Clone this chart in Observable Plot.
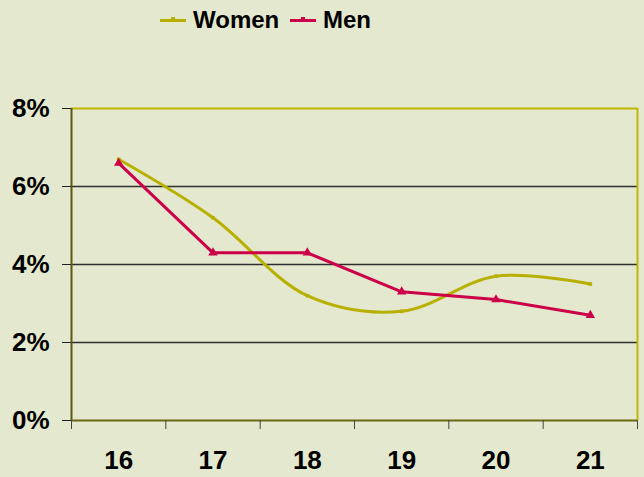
<!DOCTYPE html>
<html>
<head>
<meta charset="utf-8">
<script src="https://cdn.jsdelivr.net/npm/d3@7"></script>
<script src="https://cdn.jsdelivr.net/npm/@observablehq/plot@0.6"></script>
<style>
  html, body { margin: 0; padding: 0; background: #e4e8ce; }
  body { width: 644px; height: 477px; overflow: hidden; font-family: "Liberation Sans", Arial, sans-serif; }
  #legend { position: relative; height: 45px; width: 644px; }
  .item { position: absolute; top: 5px; font-weight: bold; font-size: 24px; line-height: 30px; color: #000; display: flex; align-items: center; }
  .sw { display: inline-block; width: 26px; height: 3px; margin-right: 7px; position: relative; }
  .sw i { position: absolute; left: 11px; top: -2px; width: 4px; height: 5px; }
  svg { display: block; }
</style>
</head>
<body>
<div id="legend"></div>
<div id="chart"></div>
<script>
const years = [16, 17, 18, 19, 20, 21];
const women = [6.7, 5.2, 3.2, 2.8, 3.7, 3.5];
const men = [6.6, 4.3, 4.3, 3.3, 3.1, 2.7];
const yTicks = [0, 2, 4, 6, 8];
const xBounds = [15.5, 16.5, 17.5, 18.5, 19.5, 20.5, 21.5];
const seriesNames = ["Women", "Men"];
const colors = {Women: "#b8b000", Men: "#cc0048"};

const womenData = years.map((y, i) => ({year: y, value: women[i]}));
const menData = years.map((y, i) => ({year: y, value: men[i]}));

// legend
const legend = document.getElementById("legend");
const legendX = {Women: 160, Men: 290};
for (const s of seriesNames) {
  const d = document.createElement("div");
  d.className = "item";
  d.style.left = legendX[s] + "px";
  d.innerHTML = `<span class="sw" style="background:${colors[s]}"><i style="background:${colors[s]}"></i></span>${s}`;
  legend.appendChild(d);
}

const font = {fontSize: 26, fontWeight: "bold", fill: "#000"};
const chart = Plot.plot({
  width: 644,
  height: 432,
  marginTop: 63,
  marginBottom: 57,
  marginLeft: 71,
  marginRight: 7,
  style: {background: "transparent", fontFamily: "'Liberation Sans', Arial, sans-serif", overflow: "visible"},
  x: {type: "linear", domain: [15.5, 21.5]},
  y: {type: "linear", domain: [0, 8]},
  marks: [
    Plot.ruleY([2, 4, 6], {stroke: "#2e2e2e", strokeWidth: 1.5}),
    Plot.ruleY([8], {stroke: "#c0b800", strokeWidth: 2}),
    Plot.ruleX([21.5], {stroke: "#c0b800", strokeWidth: 2}),
    Plot.ruleX([15.5], {stroke: "#5a5810", strokeWidth: 2}),
    Plot.ruleY([0], {stroke: "#6a6810", strokeWidth: 2}),
    Plot.axisX({ticks: xBounds, tickSize: 9, tickFormat: () => "", stroke: "#444", label: null}),
    Plot.axisX({ticks: years, tickSize: 0, tickPadding: 30, tickFormat: d => String(d), label: null, ...font}),
    Plot.axisY({ticks: yTicks, tickSize: 9, tickPadding: 13, tickFormat: d => d + "%", stroke: "#222", label: null, ...font}),
    Plot.line(womenData, {x: "year", y: "value", stroke: colors.Women, strokeWidth: 3, curve: "catmull-rom"}),
    Plot.line(menData, {x: "year", y: "value", stroke: colors.Men, strokeWidth: 3}),
    Plot.dot(womenData, {x: "year", y: "value", symbol: "square", r: 2, fill: colors.Women}),
    Plot.dot(menData, {x: "year", y: "value", symbol: "triangle", r: 3.5, fill: colors.Men})
  ]
});
document.getElementById("chart").appendChild(chart);
</script>
</body>
</html>
